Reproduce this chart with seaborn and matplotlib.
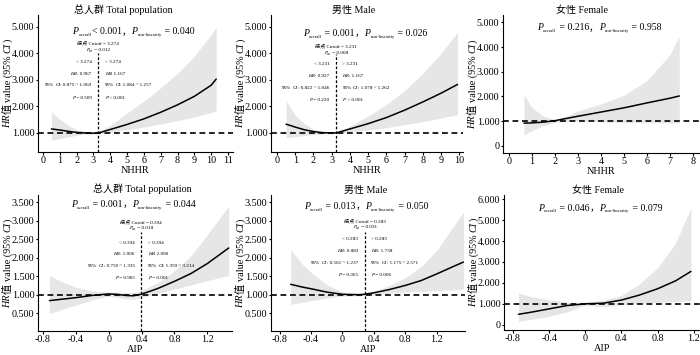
import matplotlib
matplotlib.use('Agg')
import matplotlib.pyplot as plt
import matplotlib.transforms as mtrans
from matplotlib.ticker import FuncFormatter
import seaborn as sns

# ---- values ----
# NHHR, total population
nhhr_all_x = [0.5, 1.0, 1.5, 2.0, 2.5, 3.0, 3.3, 4.0, 5.0, 6.0, 7.0, 8.0, 9.0, 10.0, 10.3]
nhhr_all_hr = [1.15, 1.11, 1.06, 1.02, 1.00, 0.99, 1.00, 1.13, 1.32, 1.53, 1.78, 2.06, 2.38, 2.80, 3.03]
nhhr_all_lo = [0.72, 0.78, 0.85, 0.91, 0.95, 0.96, 0.96, 1.02, 1.12, 1.22, 1.34, 1.46, 1.60, 1.77, 1.84]
nhhr_all_up = [1.80, 1.52, 1.28, 1.13, 1.05, 1.03, 1.05, 1.28, 1.75, 2.20, 2.70, 3.25, 3.90, 4.70, 5.00]

# NHHR, male
nhhr_m_x = [0.5, 1.0, 1.5, 2.0, 2.5, 3.0, 3.25, 4.0, 5.0, 6.0, 7.0, 8.0, 9.0, 9.9]
nhhr_m_hr = [1.33, 1.22, 1.12, 1.05, 1.01, 1.00, 1.00, 1.15, 1.35, 1.58, 1.86, 2.17, 2.50, 2.83]
nhhr_m_lo = [0.82, 0.86, 0.90, 0.94, 0.96, 0.97, 0.97, 1.04, 1.11, 1.20, 1.31, 1.43, 1.56, 1.69]
nhhr_m_up = [2.20, 1.68, 1.35, 1.14, 1.05, 1.03, 1.03, 1.26, 1.64, 2.07, 2.60, 3.25, 4.00, 4.80]

# NHHR, female
nhhr_f_x = [0.65, 1.0, 1.5, 2.0, 2.5, 3.0, 4.0, 5.0, 6.0, 7.0, 7.4]
nhhr_f_hr = [0.92, 0.93, 0.96, 1.02, 1.11, 1.20, 1.37, 1.54, 1.74, 1.93, 2.02]
nhhr_f_lo = [0.45, 0.62, 0.82, 0.95, 1.00, 1.02, 0.98, 0.95, 0.94, 0.93, 0.92]
nhhr_f_up = [2.07, 1.55, 1.20, 1.07, 1.20, 1.42, 1.70, 2.05, 2.65, 3.70, 4.45]

# AIP, total population
aip_all_x = [-0.72, -0.6, -0.4, -0.2, 0.0, 0.1, 0.2, 0.3, 0.39, 0.5, 0.6, 0.8, 1.0, 1.2, 1.46]
aip_all_hr = [0.84, 0.87, 0.92, 0.98, 1.02, 1.01, 0.98, 0.97, 1.01, 1.09, 1.17, 1.36, 1.57, 1.84, 2.26]
aip_all_lo = [0.49, 0.58, 0.72, 0.86, 0.96, 0.93, 0.89, 0.88, 0.92, 0.98, 1.04, 1.15, 1.26, 1.38, 1.52]
aip_all_up = [1.52, 1.38, 1.20, 1.10, 1.07, 1.06, 1.05, 1.06, 1.10, 1.22, 1.33, 1.65, 2.05, 2.62, 3.39]

# AIP, male
aip_m_x = [-0.66, -0.5, -0.4, -0.2, 0.0, 0.2, 0.28, 0.4, 0.6, 0.8, 1.0, 1.2, 1.4, 1.54]
aip_m_hr = [1.28, 1.20, 1.16, 1.07, 1.01, 1.00, 1.01, 1.05, 1.14, 1.25, 1.38, 1.56, 1.75, 1.88]
aip_m_lo = [0.74, 0.80, 0.84, 0.91, 0.96, 0.97, 0.98, 1.00, 1.04, 1.07, 1.09, 1.11, 1.13, 1.15]
aip_m_up = [2.21, 1.80, 1.60, 1.27, 1.07, 1.03, 1.04, 1.10, 1.25, 1.46, 1.75, 2.20, 2.80, 3.23]

# AIP, female
aip_f_x = [-0.74, -0.6, -0.4, -0.2, 0.0, 0.2, 0.4, 0.6, 0.8, 1.0, 1.17]
aip_f_hr = [0.50, 0.60, 0.76, 0.92, 1.00, 1.03, 1.18, 1.42, 1.72, 2.10, 2.55]
aip_f_lo = [0.16, 0.26, 0.40, 0.62, 0.93, 0.86, 0.95, 1.02, 1.07, 1.11, 1.15]
aip_f_up = [1.51, 1.35, 1.20, 1.08, 1.08, 1.18, 1.40, 1.95, 2.72, 3.90, 5.60]

titles = ['总人群 Total population', '男性 Male', '女性 Female',
          '总人群 Total population', '男性 Male', '女性 Female']
xlabels = ['NHHR', 'NHHR', 'NHHR', 'AIP', 'AIP', 'AIP']
p_overall = ['< 0.001', ' = 0.001', ' = 0.216', ' = 0.001', ' = 0.013', ' = 0.046']
p_nonlin = [' = 0.040', ' = 0.026', ' = 0.958', ' = 0.044', ' = 0.050', ' = 0.079']

# threshold results (panels with a cutoff)
cutoffs = {0: 3.274, 1: 3.231, 3: 0.394, 4: 0.283}
p_cut = {0: '0.012', 1: '0.008', 3: '0.018', 4: '0.031'}
hr_below = {0: '0.967', 1: '0.927', 3: '1.006', 4: '0.883'}
hr_above = {0: '1.167', 1: '1.167', 3: '2.090', 4: '1.738'}
ci_below = {0: '0.875 ~ 1.069', 1: '0.822 ~ 1.046', 3: '0.759 ~ 1.335', 4: '0.561 ~ 1.237'}
ci_above = {0: '1.084 ~ 1.257', 1: '1.078 ~ 1.262', 3: '1.359 ~ 3.214', 4: '1.175 ~ 2.571'}
p_below = {0: '= 0.509', 1: '= 0.220', 3: '= 0.965', 4: '= 0.365'}
p_above = {0: '< 0.001', 1: '< 0.001', 3: '= 0.001', 4: '= 0.006'}

curves = [
    (nhhr_all_x, nhhr_all_hr, nhhr_all_lo, nhhr_all_up),
    (nhhr_m_x, nhhr_m_hr, nhhr_m_lo, nhhr_m_up),
    (nhhr_f_x, nhhr_f_hr, nhhr_f_lo, nhhr_f_up),
    (aip_all_x, aip_all_hr, aip_all_lo, aip_all_up),
    (aip_m_x, aip_m_hr, aip_m_lo, aip_m_up),
    (aip_f_x, aip_f_hr, aip_f_lo, aip_f_up),
]

# ---- layout (pixels: left, top, right, bottom) ----
W, H = 700, 355
rects = [(38, 15, 233, 152), (271, 15, 463, 152), (503, 15, 700, 153),
         (38, 195, 232, 331), (271, 195, 465, 331), (504, 195, 700, 330)]
xlims = [(-0.3, 11.3), (-0.33, 10.2), (-0.26, 8.3), (-0.86, 1.50), (-0.91, 1.56), (-0.9, 1.27)]
ylims = [(0.28, 5.45), (0.28, 5.45), (-0.29, 5.3), (0.02, 3.69), (0.02, 3.69), (-0.25, 6.2)]
xticks = [range(0, 12), range(0, 11), range(0, 9)] + [[-0.8, -0.4, 0, 0.4, 0.8, 1.2]] * 3
yticks = [[1, 2, 3, 4, 5], [1, 2, 3, 4, 5], [0, 1, 2, 3, 4, 5],
          [0.5, 1, 1.5, 2, 2.5, 3, 3.5], [0.5, 1, 1.5, 2, 2.5, 3, 3.5], [0, 1, 2, 3, 4, 5, 6]]
title_x = [0.44, 0.43, 0.40, 0.54, 0.49, 0.48]
title_pad = [1.0, 0.2, 0.2, 2.5, 1.2, 0.4]
head_y = [0.858, 0.844, 0.888, 0.91, 0.894, 0.885]
# y of cutoff text, P_cut, 4 rows, top of vertical line (axes fraction, text centres)
block_y = {0: (0.80, 0.75, [0.664, 0.577, 0.496, 0.40], 0.72),
           1: (0.774, 0.73, [0.65, 0.562, 0.474, 0.387], 0.715),
           3: (0.80, 0.765, [0.655, 0.574, 0.485, 0.397], 0.73),
           4: (0.809, 0.772, [0.684, 0.596, 0.507, 0.419], 0.73)}

sns.set_theme(style='ticks')
FAM = ['Liberation Serif', 'Noto Sans CJK SC']
plt.rcParams['font.family'] = FAM
plt.rcParams['axes.unicode_minus'] = False

TICK, LAB, HEAD, SMALL = 7.3, 7.3, 7.0, 3.7

fig = plt.figure(figsize=(W / 100, H / 100), dpi=100)
rend = fig.canvas.get_renderer()


def rich(ax, x, y, parts, trans, ha='center', rot=0, dx0=0.0):
    """draw a row of differently styled text pieces on one baseline"""
    made = []
    for s, kw in parts:
        kw = dict(kw)
        gap = kw.pop('gap', 0) * fig.dpi / 72
        dy = kw.pop('dy', 0) * fig.dpi / 72
        t = ax.text(x, y, s, transform=trans, ha='left', va='baseline',
                    rotation=rot, rotation_mode='anchor', color='black', **kw)
        bb = t.get_window_extent(rend)
        made.append((t, (bb.height if rot else bb.width) + gap, dy))
    total = sum(m[1] for m in made)
    pos = {'left': 0.0, 'center': -total / 2, 'right': -total}[ha]
    for t, L, dy in made:
        if rot:
            t.set_transform(mtrans.offset_copy(trans, fig=fig, x=dx0 - dy, y=pos, units='dots'))
        else:
            t.set_transform(mtrans.offset_copy(trans, fig=fig, x=pos + dx0, y=dy, units='dots'))
        pos += L


def fmt_y(v, _):
    return '0' if abs(v) < 1e-9 else f'{v:.3f}'


def fmt_x(v, _):
    return '0' if abs(v) < 1e-9 else f'{v:g}'


for i, (l, t, r, b) in enumerate(rects):
    ax = fig.add_axes([l / W, 1 - b / H, (r - l) / W, (b - t) / H])
    xs, hr, lo, up = curves[i]

    ax.fill_between(xs, lo, up, color='#e6e6e6', lw=0, zorder=1)
    ax.axhline(1, color='black', lw=1.2, ls=(0, (3.5, 2.2)), zorder=2)
    sns.lineplot(x=xs, y=hr, ax=ax, color='black', lw=1.1, zorder=3)

    ax.set_xlim(*xlims[i])
    ax.set_ylim(*ylims[i])
    ax.set_xticks(list(xticks[i]))
    ax.set_yticks(yticks[i])
    ax.xaxis.set_major_formatter(FuncFormatter(fmt_x))
    ax.yaxis.set_major_formatter(FuncFormatter(fmt_y))
    ax.tick_params(direction='out', length=1.8, width=0.8, pad=0.8,
                   labelsize=TICK, colors='black')
    sns.despine(ax=ax)
    for sp in ('left', 'bottom'):
        ax.spines[sp].set_color('black')
        ax.spines[sp].set_linewidth(0.8)
    ax.set_xlabel(xlabels[i], fontsize=LAB, labelpad=1, color='black')
    ax.set_ylabel('')
    ax.set_title(titles[i], fontsize=7.2, pad=title_pad[i], x=title_x[i], color='black')

    # y label: HR值 value (95% CI)
    rich(ax, 0, 0.5, [('HR', dict(fontsize=LAB, style='italic', gap=0.3)),
                      ('值', dict(fontsize=LAB, gap=1.8)),
                      ('value (95%', dict(fontsize=LAB, gap=1.8)),
                      ('CI', dict(fontsize=LAB, style='italic', gap=0.4)),
                      (')', dict(fontsize=LAB))],
         ax.transAxes, ha='center', rot=90, dx0=-27.5)

    # overall / non-linearity P values
    rich(ax, 0.49, head_y[i], [
        ('P', dict(fontsize=HEAD, style='italic')),
        ('overall', dict(fontsize=3.3, dy=-1.3, gap=0.2)),
        (p_overall[i], dict(fontsize=HEAD)),
        ('，', dict(fontsize=HEAD)),
        ('P', dict(fontsize=HEAD, style='italic')),
        ('non-linearity', dict(fontsize=3.3, dy=-1.3, gap=0.2)),
        (p_nonlin[i], dict(fontsize=HEAD))], ax.transAxes)

    if i in cutoffs:
        c = cutoffs[i]
        yc, yp, rows, vtop = block_y[i]
        ax.axvline(c, ymin=0, ymax=vtop, color='black', lw=0.9,
                   ls=(0, (2.2, 1.5)), zorder=4)
        bt = mtrans.blended_transform_factory(ax.transData, ax.transAxes)
        off = 0.013
        ax.text(c, yc - off, f'拐点 Cutoff = {c:.3f}', transform=bt, ha='center',
                va='baseline', fontsize=SMALL, color='black')
        rich(ax, c, yp - off, [('P', dict(fontsize=SMALL, style='italic')),
                               ('cut', dict(fontsize=2.2, dy=-0.7)),
                               (f' = {p_cut[i]}', dict(fontsize=SMALL))], bt)
        left = [[(f'< {c:.3f}', {})],
                [('HR', dict(style='italic')), (f': {hr_below[i]}', {})],
                [('95%', dict(gap=1.0)), ('CI', dict(style='italic')), (f': {ci_below[i]}', {})],
                [('P', dict(style='italic')), (f' {p_below[i]}', {})]]
        right = [[(f'> {c:.3f}', {})],
                 [('HR', dict(style='italic')), (f': {hr_above[i]}', {})],
                 [('95%', dict(gap=1.0)), ('CI', dict(style='italic')), (f': {ci_above[i]}', {})],
                 [('P', dict(style='italic')), (f' {p_above[i]}', {})]]
        for ry, lp, rp in zip(rows, left, right):
            lp = [(s, dict(kw, fontsize=SMALL)) for s, kw in lp]
            rp = [(s, dict(kw, fontsize=SMALL)) for s, kw in rp]
            rich(ax, c, ry - off, lp, bt, ha='right', dx0=-6.5)
            rich(ax, c, ry - off, rp, bt, ha='left', dx0=6.5)

fig.savefig('out.png', dpi=100, facecolor='white')
